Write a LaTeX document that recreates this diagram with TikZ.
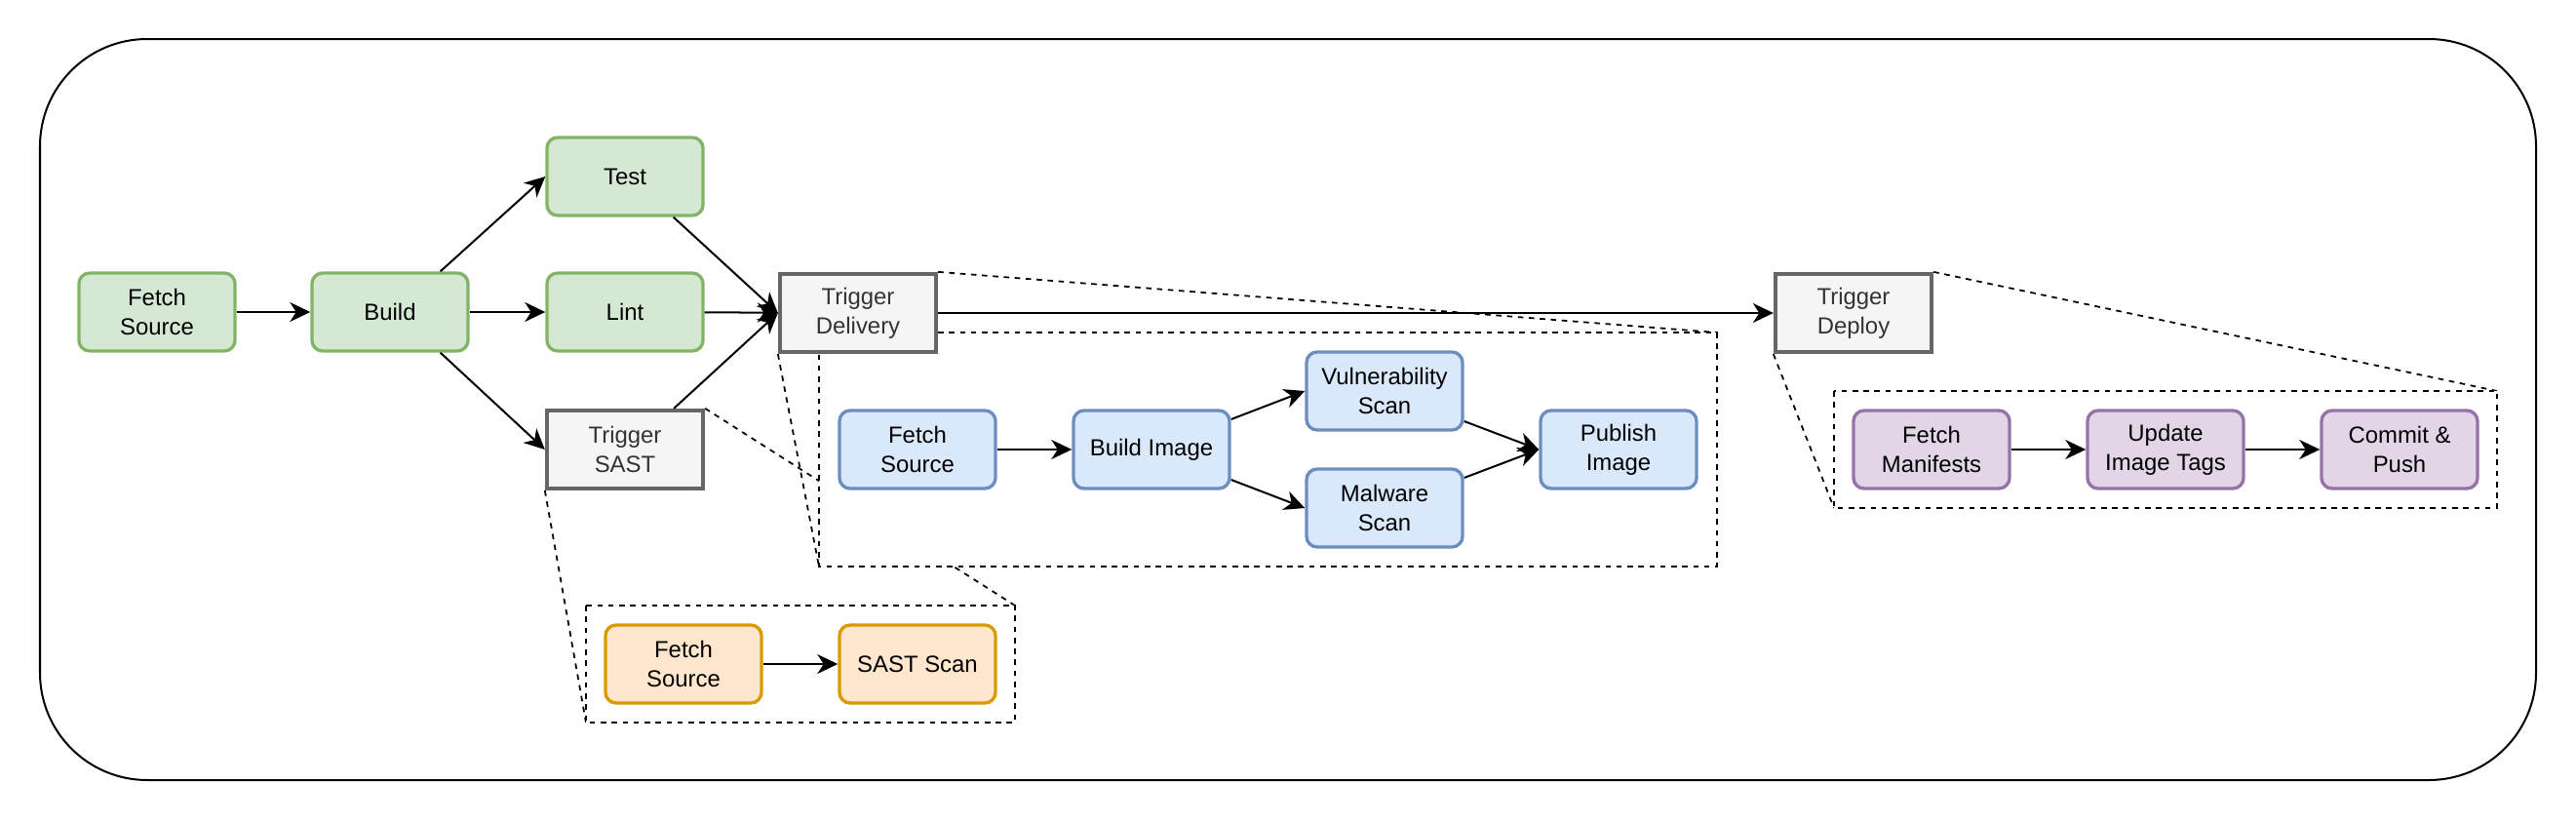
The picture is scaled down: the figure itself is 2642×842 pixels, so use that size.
\documentclass[tikz,border=0pt]{standalone}
\usepackage{fontspec}
\setmainfont{Liberation Sans}
\usetikzlibrary{arrows.meta}
\pgfdeclarelayer{background}
\pgfsetlayers{background,main}
\definecolor{greenfill}{HTML}{D5E8D4}
\definecolor{greenline}{HTML}{82B366}
\definecolor{bluefill}{HTML}{DAE8FC}
\definecolor{blueline}{HTML}{6C8EBF}
\definecolor{orangefill}{HTML}{FFE6CC}
\definecolor{orangeline}{HTML}{D79B00}
\definecolor{purplefill}{HTML}{E1D5E7}
\definecolor{purpleline}{HTML}{9673A6}
\definecolor{grayfill}{HTML}{F5F5F5}
\definecolor{grayline}{HTML}{666666}
\definecolor{graytext}{HTML}{333333}
\begin{document}
\begin{tikzpicture}[x=0.01cm,y=-0.01cm,
  every node/.style={font=\fontsize{6.8}{8.5}\selectfont, align=center, inner sep=0pt},
  stage/.style={draw, rounded corners=0.11cm, line width=0.95pt, minimum width=1.6cm, minimum height=0.8cm},
  greenbox/.style={stage, draw=greenline, fill=greenfill},
  bluebox/.style={stage, draw=blueline, fill=bluefill},
  orangebox/.style={stage, draw=orangeline, fill=orangefill},
  purplebox/.style={stage, draw=purpleline, fill=purplefill},
  trigger/.style={draw=grayline, fill=grayfill, text=graytext, line width=1.2pt, minimum width=1.6cm, minimum height=0.8cm},
  flow/.style={-{Stealth[length=0.21cm,width=0.2cm,inset=0.065cm]}, line width=0.57pt},
  zoomline/.style={dash pattern=on 1.6pt off 1.6pt, line width=0.5pt},
  zoomframe/.style={zoomline, fill=white}]
\useasboundingbox (0,0) rectangle (2642,842);
\draw [line width=0.57pt, rounded corners=1.1cm] (41,40) rectangle (2601,800);
\node [greenbox] (fsrc) at (161,320) {Fetch\\Source};
\node [greenbox] (build) at (400,320) {Build};
\node [greenbox] (test) at (641,181) {Test};
\node [greenbox] (lint) at (641,320) {Lint};
\node [trigger] (tsast) at (641,461) {Trigger\\SAST};
\node [trigger] (tdel) at (880,321) {Trigger\\Delivery};
\node [trigger] (tdep) at (1901,321) {Trigger\\Deploy};
\coordinate (delNW) at (840,341);
\coordinate (delSE) at (1761,581);
\coordinate (delNE) at (1761,341);
\coordinate (delSW) at (840,581);
\coordinate (sastNW) at (601,621);
\coordinate (sastNE) at (1041,621);
\coordinate (sastSW) at (601,741);
\coordinate (sastSE) at (1041,741);
\coordinate (depNW) at (1881,401);
\coordinate (depNE) at (2561,401);
\coordinate (depSW) at (1881,521);
\coordinate (depSE) at (2561,521);
\begin{pgfonlayer}{background}
\draw [zoomline] (tsast.north east) -- (sastNE);
\draw [zoomline] (tsast.south west) -- (sastSW);
\draw [zoomline] (tdel.north east) -- (delNE);
\draw [zoomline] (tdel.south west) -- (delSW);
\draw [zoomline] (tdep.north east) -- (depNE);
\draw [zoomline] (tdep.south west) -- (depSW);
\draw [zoomframe] (sastNW) rectangle (sastSE);
\draw [zoomframe] (delNW) rectangle (delSE);
\draw [zoomframe] (depNW) rectangle (depSE);
\end{pgfonlayer}
\node [bluebox] (bfetch) at (941,461) {Fetch\\Source};
\node [bluebox] (bbuild) at (1181,461) {Build Image};
\node [bluebox] (vuln) at (1420,401) {Vulnerability\\Scan};
\node [bluebox] (malw) at (1420,521) {Malware\\Scan};
\node [bluebox] (publ) at (1660,461) {Publish\\Image};
\node [orangebox] (ofetch) at (701,681) {Fetch\\Source};
\node [orangebox] (sast) at (941,681) {SAST Scan};
\node [purplebox] (pfetch) at (1981,461) {Fetch\\Manifests};
\node [purplebox] (ptags) at (2221,461) {Update\\Image Tags};
\node [purplebox] (ppush) at (2461,461) {Commit \&\\Push};
\draw [flow] (fsrc) -- (build);
\draw [flow] ([xshift=-0.3cm]build.north east) -- (test.west);
\draw [flow] (build) -- (lint);
\draw [flow] ([xshift=-0.3cm]build.south east) -- (tsast.west);
\draw [flow] ([xshift=-0.32cm]test.south east) -- (tdel.west);
\draw [flow] (lint) -- (tdel);
\draw [flow] ([xshift=-0.32cm]tsast.north east) -- (tdel.west);
\draw [flow] (tdel) -- (tdep);
\draw [flow] (bfetch) -- (bbuild);
\draw [flow] ([yshift=0.31cm]bbuild.east) -- (vuln.west);
\draw [flow] ([yshift=-0.31cm]bbuild.east) -- (malw.west);
\draw [flow] ([yshift=-0.31cm]vuln.east) -- (publ.west);
\draw [flow] ([yshift=0.31cm]malw.east) -- (publ.west);
\draw [flow] (ofetch) -- (sast);
\draw [flow] (pfetch) -- (ptags);
\draw [flow] (ptags) -- (ppush);
\end{tikzpicture}
\end{document}
